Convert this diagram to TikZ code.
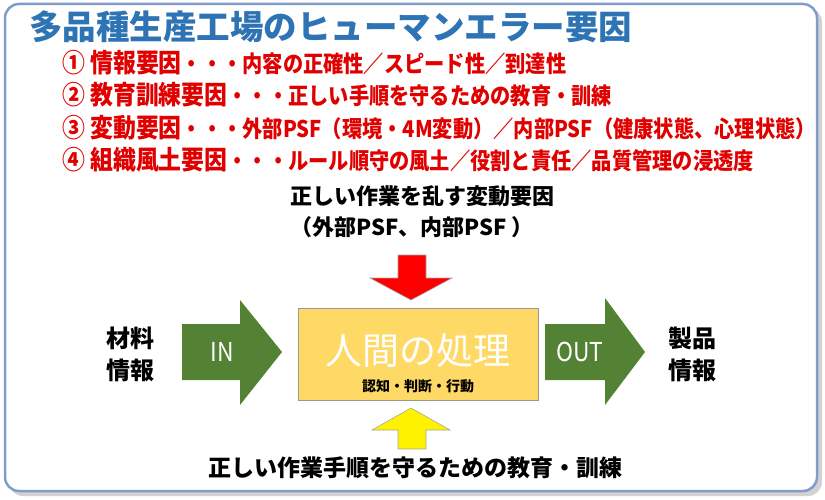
\documentclass[tikz,border=0pt]{standalone}
\usepackage{fontspec}
\newfontfamily\cjk{Noto Sans CJK JP}
\newfontfamily\cjkn[FakeStretch=0.88]{Noto Sans CJK JP}
\definecolor{titleblue}{HTML}{2E74B5}
\definecolor{framec}{HTML}{7F9CCB}
\definecolor{listred}{HTML}{E00000}
\definecolor{boxy}{HTML}{FFD966}
\definecolor{greenar}{HTML}{548235}
\tikzset{
  lst/.style={anchor=west,text=listred,inner sep=0pt,font=\cjkn\bfseries\fontsize{23}{24}\selectfont},
  lbl/.style={font=\cjk\bfseries\fontsize{22}{26}\selectfont,inner sep=0pt,align=center},
  arr/.style={draw=gray!70,line width=0.6pt}
}
\begin{document}
\begin{tikzpicture}[x=1pt,y=-1pt]
\useasboundingbox (0,0) rectangle (825,500);
\fill[gray!35,rounded corners=14] (9,8) rectangle (822,496);
\draw[framec,line width=2.5pt,fill=white,rounded corners=14] (5,4) rectangle (817,491);
\node[anchor=west,inner sep=0pt,text=titleblue,font=\cjk\bfseries\fontsize{33.5}{36}\selectfont] (title) at (29,27) {多品種生産工場のヒューマンエラー要因};
\node[lst] (l1) at (62,63) {{\fontsize{26}{26}\selectfont ① 情報要因}・・・内容の正確性／スピード性／到達性};
\node[lst] (l2) at (62,95) {{\fontsize{26}{26}\selectfont ② 教育訓練要因}・・・正しい手順を守るための教育・訓練};
\node[lst] (l3) at (62,128) {{\fontsize{26}{26}\selectfont ③ 変動要因}・・・外部PSF（環境・4M変動）／内部PSF（健康状態、心理状態）};
\node[lst] (l4) at (62,160) {{\fontsize{26}{26}\selectfont ④ 組織風土要因}・・・ルール順守の風土／役割と責任／品質管理の浸透度};
\node[lbl,anchor=west] (t1) at (290,196) {正しい作業を乱す変動要因};
\node[lbl,anchor=west] (t2) at (290,227) {（外部PSF、内部PSF ）};
% box
\node[draw=gray!80,fill=boxy,minimum width=240,minimum height=92,inner sep=0pt] (box) at (418,354) {};
\node[text=white,font=\cjk\fontsize{37}{40}\selectfont,inner sep=0pt] (hp) at (418,350) {人間の処理};
\node[font=\cjk\bfseries\fontsize{14}{16}\selectfont,inner sep=0pt] (sub) at (418,386) {認知・判断・行動};
% red arrow
\coordinate (rt) at (411,300);
\fill[red,arr] (398,255) -- (426,255) -- (426,278) -- (452,278) -- (rt) -- (370,278) -- (398,278) -- cycle;
% yellow arrow
\coordinate (yt) at (411,408);
\fill[yellow,arr] (yt) -- (450,430) -- (426,430) -- (426,449) -- (398,449) -- (398,430) -- (372,430) -- cycle;
\node[font=\cjk\bfseries\fontsize{23}{26}\selectfont,inner sep=0pt] (bt) at (415,468) {正しい作業手順を守るための教育・訓練};
% IN arrow
\fill[greenar] (182,324) -- (240,324) -- (240,300) -- (282,352) -- (240,405) -- (240,380) -- (182,380) -- cycle;
\node[text=white,font=\cjkn\fontsize{26}{28}\selectfont,inner sep=0pt] (in) at (222,352) {IN};
% OUT arrow
\fill[greenar] (545,324) -- (605,324) -- (605,298) -- (645,352) -- (605,405) -- (605,380) -- (545,380) -- cycle;
\node[text=white,font=\cjkn\fontsize{26}{28}\selectfont,inner sep=0pt] (out) at (580,352) {OUT};
\node[lbl,font=\cjk\bfseries\fontsize{24}{32}\selectfont] (mat) at (130,354) {材料\\情報};
\node[lbl,font=\cjk\bfseries\fontsize{24}{32}\selectfont] (prod) at (692,354) {製品\\情報};
\end{tikzpicture}
\end{document}
